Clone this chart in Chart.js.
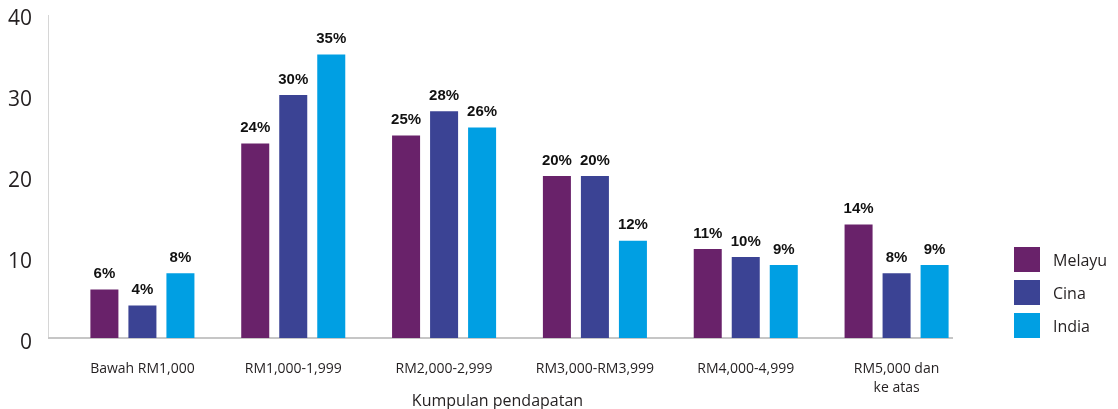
<!DOCTYPE html>
<html lang="ms">
<head>
    <meta charset="UTF-8">
    <title>Kumpulan pendapatan</title>
    <script src="https://cdn.jsdelivr.net/npm/chart.js"></script>
    <style>
        body {
            margin: 0;
            background: #fff;
            font-family: "Open Sans", sans-serif;
        }

        #wrap {
            position: relative;
            width: 1118px;
            height: 409px;
        }

        #legend {
            position: absolute;
            left: 1014px;
            top: 247px;
        }

        .item {
            display: flex;
            align-items: center;
            height: 25px;
            margin-bottom: 8px;
            font-size: 16px;
            color: #231f20;
        }

        .box {
            width: 26px;
            height: 25px;
            margin-right: 13px;
        }
    </style>
</head>
<body>
    <div id="wrap">
        <canvas id="income-chart" width="1118" height="409"></canvas>
        <div id="legend"></div>
    </div>

    <script>
        // income groups (x axis)
        const categories = [
            'Bawah RM1,000',
            'RM1,000-1,999',
            'RM2,000-2,999',
            'RM3,000-RM3,999',
            'RM4,000-4,999',
            ['RM5,000 dan', 'ke atas']
        ];

        // percentage per ethnic group
        const melayu = [6, 24, 25, 20, 11, 14];
        const cina = [4, 30, 28, 20, 10, 8];
        const india = [8, 35, 26, 12, 9, 9];

        const seriesNames = ['Melayu', 'Cina', 'India'];
        const seriesColors = ['#69226a', '#3b4394', '#009fe3'];

        const yTicks = [0, 10, 20, 30, 40];
        const xTitle = 'Kumpulan pendapatan';

        // thin axis lines + axis title, drawn a little left of the first group like the original
        const axisLines = {
            id: 'axisLines',
            beforeDatasetsDraw(chart) {
                const { ctx, chartArea } = chart;
                const left = chartArea.left - 19;
                const right = chartArea.right - 19;
                ctx.save();
                ctx.strokeStyle = '#d6d6d6';
                ctx.lineWidth = 1;
                ctx.beginPath();
                ctx.moveTo(left + 0.5, chartArea.top + 1);
                ctx.lineTo(left + 0.5, chartArea.bottom);
                ctx.stroke();
                ctx.strokeStyle = '#c6c6c6';
                ctx.lineWidth = 2;
                ctx.beginPath();
                ctx.moveTo(left, chartArea.bottom);
                ctx.lineTo(right, chartArea.bottom);
                ctx.stroke();

                ctx.font = '16px "Open Sans"';
                ctx.fillStyle = '#231f20';
                ctx.textAlign = 'center';
                ctx.textBaseline = 'middle';
                ctx.fillText(xTitle, (left + right) / 2 - 3, chart.height - 8);
                ctx.restore();
            }
        };

        // percentage labels above each bar
        const valueLabels = {
            id: 'valueLabels',
            afterDatasetsDraw(chart) {
                const { ctx } = chart;
                ctx.save();
                ctx.font = 'bold 15px "Liberation Sans", Arial, sans-serif';
                ctx.fillStyle = '#111';
                ctx.textAlign = 'center';
                ctx.textBaseline = 'bottom';
                chart.data.datasets.forEach((ds, i) => {
                    chart.getDatasetMeta(i).data.forEach((bar, j) => {
                        ctx.fillText(ds.data[j] + '%', bar.x, bar.y - 8);
                    });
                });
                ctx.restore();
            }
        };

        const ctx = document.getElementById('income-chart').getContext('2d');
        new Chart(ctx, {
            type: 'bar',
            data: {
                labels: categories,
                datasets: [melayu, cina, india].map((values, i) => ({
                    label: seriesNames[i],
                    data: values,
                    backgroundColor: seriesColors[i],
                    categoryPercentage: 0.756,
                    barPercentage: 0.737,
                })),
            },
            options: {
                responsive: false,
                animation: false,
                layout: {
                    padding: { top: 14, right: 146, left: 0, bottom: 0 },
                },
                plugins: {
                    legend: { display: false },
                    tooltip: { enabled: false },
                },
                scales: {
                    x: {
                        grid: { display: false, drawTicks: false },
                        border: { display: false },
                        ticks: {
                            padding: 21,
                            color: '#231f20',
                            font: { family: '"Open Sans"', size: 14, lineHeight: 1.4 },
                            maxRotation: 0,
                        },
                        afterFit(scale) {
                            scale.height = 71;
                        },
                    },
                    y: {
                        min: 0,
                        max: 40,
                        afterBuildTicks(scale) {
                            scale.ticks = yTicks.map(v => ({ value: v }));
                        },
                        grid: { display: false, drawTicks: true, tickLength: 35 },
                        border: { display: false },
                        ticks: {
                            padding: 0,
                            labelOffset: 5,
                            color: '#231f20',
                            font: { family: '"Open Sans"', size: 21 },
                        },
                        afterFit(scale) {
                            scale.width = 67;
                        },
                    },
                },
            },
            plugins: [axisLines, valueLabels],
        });

        // legend on the right
        const legend = document.getElementById('legend');
        seriesNames.forEach((name, i) => {
            const item = document.createElement('div');
            item.className = 'item';
            item.innerHTML = '<span class="box" style="background:' + seriesColors[i] + '"></span>' + name;
            legend.appendChild(item);
        });
    </script>
</body>
</html>
